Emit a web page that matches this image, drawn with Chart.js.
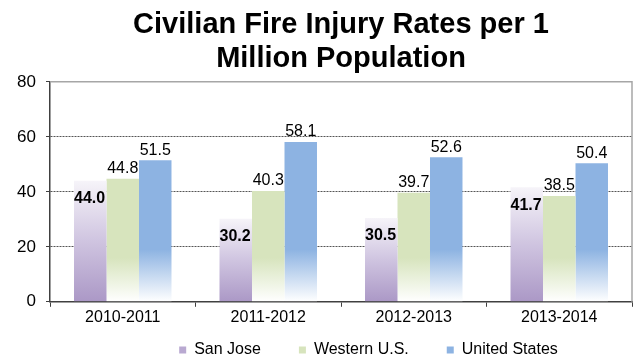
<!DOCTYPE html>
<html>
<head>
<meta charset="utf-8">
<script src="https://cdn.jsdelivr.net/npm/chart.js@4.4.0/dist/chart.umd.min.js"></script>
<style>
  html, body { margin: 0; padding: 0; background: #fff; }
  #wrap { width: 633px; height: 360px; }
</style>
</head>
<body>
<div id="wrap"><canvas id="chart"></canvas></div>
<script>
const years = ['2010-2011', '2011-2012', '2012-2013', '2013-2014'];
const sanJose = [44.0, 30.2, 30.5, 41.7];
const westernUS = [44.8, 40.3, 39.7, 38.5];
const unitedStates = [51.5, 58.1, 52.6, 50.4];
const yTicks = [0, 20, 40, 60, 80];

const FONT = "'Liberation Sans', Arial, sans-serif";

// purple: white at the bar top, purple at the base
function purpleFill(ctx) {
  const chart = ctx.chart;
  if (!chart.chartArea || ctx.type !== 'data') return '#b9a9d1';
  const y = chart.scales.y;
  const top = y.getPixelForValue(ctx.raw);
  const bottom = y.getPixelForValue(0);
  const g = chart.ctx.createLinearGradient(0, top, 0, bottom);
  g.addColorStop(0, '#f6f4f9');
  g.addColorStop(0.5, '#cfc4e0');
  g.addColorStop(1, '#ab98c6');
  return g;
}

// green / blue: solid colour that fades out near the base
function fadeFill(color, from) {
  return function (ctx) {
    const chart = ctx.chart;
    if (!chart.chartArea) return color;
    const y = chart.scales.y;
    const g = chart.ctx.createLinearGradient(0, y.getPixelForValue(from), 0, y.getPixelForValue(0));
    g.addColorStop(0, color);
    g.addColorStop(1, '#ffffff');
    return g;
  };
}

const frame = {
  id: 'frame',
  beforeDatasetsDraw(chart) {
    const { ctx, chartArea: a } = chart;
    ctx.save();
    ctx.strokeStyle = '#a6a6a6';
    ctx.lineWidth = 1.5;
    ctx.beginPath();
    ctx.moveTo(a.left, a.top);
    ctx.lineTo(a.right, a.top);
    ctx.lineTo(a.right, a.bottom);
    ctx.stroke();
    ctx.restore();
  }
};

const valueLabels = {
  id: 'valueLabels',
  afterDatasetsDraw(chart) {
    const ctx = chart.ctx;
    ctx.save();
    ctx.fillStyle = '#000';
    chart.data.datasets.forEach((ds, i) => {
      chart.getDatasetMeta(i).data.forEach((bar, j) => {
        const v = ds.data[j].toFixed(1);
        if (i === 0) {
          ctx.font = 'bold 16px ' + FONT;
          ctx.textAlign = 'left';
          ctx.textBaseline = 'middle';
          ctx.fillText(v, bar.x - bar.width / 2, bar.y + 18);
        } else {
          ctx.font = '16px ' + FONT;
          ctx.textAlign = 'center';
          ctx.textBaseline = 'bottom';
          ctx.fillText(v, bar.x, bar.y - 2);
        }
      });
    });
    ctx.restore();
  }
};

// the legend in the original sits right of centre and close under the labels
const legendShift = {
  id: 'legendShift',
  afterLayout(chart) {
    const lg = chart.legend;
    lg.left = 105;
    lg.top = 304;
    lg.bottom = 360;
  }
};

const legendColors = ['#b9a9d1', '#d7e4bd', '#8db3e2'];

new Chart(document.getElementById('chart'), {
  type: 'bar',
  data: {
    labels: years,
    datasets: [
      { label: 'San Jose', data: sanJose, backgroundColor: purpleFill },
      { label: 'Western U.S.', data: westernUS, backgroundColor: fadeFill('#d7e4bd', 16) },
      { label: 'United States', data: unitedStates, backgroundColor: fadeFill('#8db3e2', 19) }
    ]
  },
  options: {
    responsive: true,
    maintainAspectRatio: false,
    animation: false,
    layout: { padding: { left: 0, right: 1, top: 0, bottom: 0 } },
    datasets: { bar: { categoryPercentage: 0.67, barPercentage: 1.0 } },
    scales: {
      x: {
        grid: { display: true, drawOnChartArea: false, offset: true, tickLength: 5, color: '#404040', lineWidth: 1 },
        border: { display: true, color: '#404040', width: 1.5 },
        ticks: { color: '#000', font: { family: FONT, size: 16 }, padding: 1, maxRotation: 0, autoSkip: false }
      },
      y: {
        min: 0,
        max: 80,
        afterFit(scale) { scale.width = 50; },
        afterBuildTicks(axis) { axis.ticks = yTicks.map(v => ({ value: v })); },
        grid: {
          color: c => (c.tick && (c.tick.value === 0 || c.tick.value === 80)) ? 'rgba(0,0,0,0)' : '#555',
          lineWidth: 1,
          drawTicks: true,
          tickLength: 4,
          tickColor: '#404040'
        },
        border: { display: true, color: '#404040', width: 1.5, dash: [2, 1] },
        ticks: { color: '#000', font: { family: FONT, size: 17 }, padding: 10 }
      }
    },
    plugins: {
      title: {
        display: true,
        fullSize: false,
        text: ['Civilian Fire Injury Rates per 1', 'Million Population'],
        color: '#000',
        font: { family: FONT, size: 29, weight: 'bold', lineHeight: 1.17 },
        padding: { top: 8, bottom: 6 }
      },
      legend: {
        position: 'bottom',
        maxHeight: 32,
        labels: {
          color: '#000',
          font: { family: FONT, size: 16 },
          boxWidth: 7,
          boxHeight: 7,
          padding: 38,
          generateLabels(chart) {
            return chart.data.datasets.map((ds, i) => ({
              text: ds.label,
              fillStyle: legendColors[i],
              strokeStyle: legendColors[i],
              lineWidth: 0,
              datasetIndex: i,
              fontColor: '#000'
            }));
          }
        }
      },
      tooltip: { enabled: false }
    }
  },
  plugins: [frame, valueLabels, legendShift]
});
</script>
</body>
</html>
